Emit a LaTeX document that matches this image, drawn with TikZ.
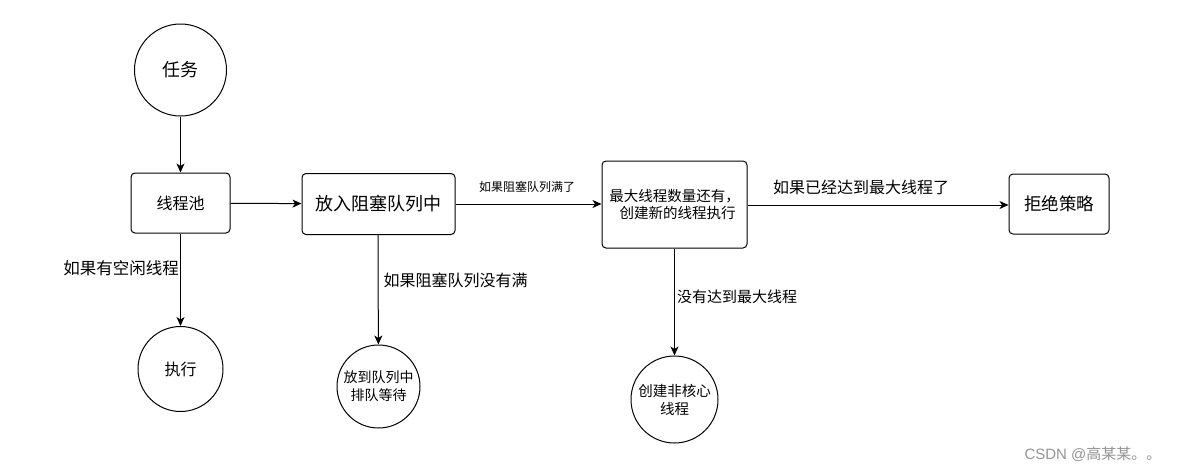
\documentclass[tikz,border=0pt]{standalone}
\usepackage{fontspec}
\setmainfont{Noto Sans CJK SC}
\newfontfamily\wmfont{Liberation Sans}
\usetikzlibrary{arrows.meta}
\begin{document}
\begin{tikzpicture}[x=1pt,y=-1pt,
  fs/.style 2 args={font=\fontsize{#1}{#2}\selectfont},
  circ/.style={draw, circle, line width=1pt, inner sep=0pt},
  rbox/.style={draw, rectangle, rounded corners=4pt, line width=1pt, inner sep=0pt},
  arr/.style={line width=1pt, -{Stealth[length=9pt,width=8pt,inset=2.5pt]}},
  lbl/.style={inner sep=0pt}
]
\fill[white] (0,0) rectangle (1187,472);
\useasboundingbox (0,0) rectangle (1187,472);

% nodes
\node[circ, minimum size=92pt, fs={18}{22}] (task) at (180.5,70) {任务};
\node[rbox, minimum width=99pt, minimum height=60pt, fs={16}{20}] (pool) at (180.5,203) {线程池};
\node[rbox, minimum width=145pt, minimum height=87pt, fs={14.5}{17}, align=center] (maxt) at (674.5,204.5) {最大线程数量还有，\\\hspace*{6pt}创建新的线程执行};
\node[rbox, minimum width=153pt, minimum height=61pt, fs={18}{22}] (queue) at (378.5,204) {放入阻塞队列中};
\node[rbox, minimum width=100pt, minimum height=60pt, fs={17.5}{21}] (reject) at (1059,204) {拒绝策略};
\node[circ, minimum size=85pt, fs={16}{20}] (exec) at (180.5,369) {执行};
\node[circ, minimum size=83pt, fs={14}{18}, align=center] (wait) at (378.5,386.5) {放到队列中\\排队等待};
\node[circ, minimum size=87pt, fs={14.5}{18}, align=center] (create) at (674.5,399.5) {创建非核心\\线程};

% connectors
\draw[arr] (task) -- (pool);
\draw[arr] (pool) -- (queue);
\draw[arr] (pool) -- (exec);
\draw[arr] (queue.east |- 0,204) -- (maxt.west |- 0,204);
\draw[arr] (queue.south -| 378,0) -- (wait);
\draw[arr] (maxt.east |- 0,205) -- (reject.west |- 0,205);
\draw[arr] (maxt) -- (create);

% labels
\node[lbl, fs={16.5}{20}] (l1) at (121,268) {如果有空闲线程};
\node[lbl, fs={12}{15}] (l2) at (527,187) {如果阻塞队列满了};
\node[lbl, fs={16}{20}] (l3) at (455.5,280) {如果阻塞队列没有满};
\node[lbl, fs={16}{20}] (l4) at (861,187) {如果已经达到最大线程了};
\node[lbl, fs={15}{18}] (l5) at (737,297) {没有达到最大线程};

% watermark
\node[lbl, text=black!42, fs={15}{18}] (wm) at (1093,454) {\wmfont CSDN @\rmfamily 高某某。。};
\end{tikzpicture}
\end{document}
